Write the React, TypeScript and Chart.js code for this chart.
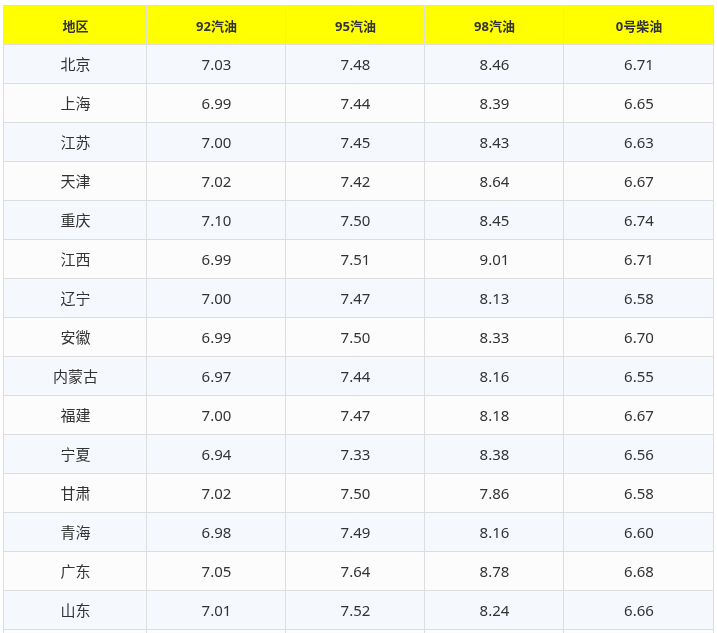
import React, { useEffect, useRef } from "react";
import { Chart, registerables } from "chart.js";

Chart.register(...registerables);

const headers = ["地区", "92汽油", "95汽油", "98汽油", "0号柴油"];
const regions = ["北京", "上海", "江苏", "天津", "重庆", "江西", "辽宁", "安徽", "内蒙古", "福建", "宁夏", "甘肃", "青海", "广东", "山东"];
const gas92 = [7.03, 6.99, 7.0, 7.02, 7.1, 6.99, 7.0, 6.99, 6.97, 7.0, 6.94, 7.02, 6.98, 7.05, 7.01];
const gas95 = [7.48, 7.44, 7.45, 7.42, 7.5, 7.51, 7.47, 7.5, 7.44, 7.47, 7.33, 7.5, 7.49, 7.64, 7.52];
const gas98 = [8.46, 8.39, 8.43, 8.64, 8.45, 9.01, 8.13, 8.33, 8.16, 8.18, 8.38, 7.86, 8.16, 8.78, 8.24];
const diesel0 = [6.71, 6.65, 6.63, 6.67, 6.74, 6.71, 6.58, 6.7, 6.55, 6.67, 6.56, 6.58, 6.6, 6.68, 6.66];

// layout (column relative widths), not data
const colWeights = [143, 139, 139, 139, 150];
const totalWeight = colWeights.reduce((a, b) => a + b, 0);
const rowCount = regions.length + 2; // header + rows + continuing row

const FONT = "'Noto Sans', 'Noto Sans CJK SC', sans-serif";

const tablePlugin = {
  id: "tablePlugin",
  afterDraw(chart: any) {
    const ctx = chart.ctx;
    const xs = chart.scales.x;
    const ys = chart.scales.y;
    const edges: number[] = [0];
    colWeights.forEach((w, i) => edges.push(edges[i] + w));
    const xe = edges.map((e) => Math.round(xs.getPixelForValue(e)));
    const ye: number[] = [];
    for (let r = 0; r <= rowCount; r++) ye.push(Math.round(ys.getPixelForValue(r)));
    const columns = [regions, gas92, gas95, gas98, diesel0];

    ctx.save();
    for (let r = 0; r < rowCount; r++) {
      let bg = "#fcfcfc";
      if (r === 0) bg = "#ffff00";
      else if (r % 2 === 1) bg = "#f5f9fe";
      ctx.fillStyle = bg;
      ctx.fillRect(xe[0], ye[r], xe[xe.length - 1] - xe[0], ye[r + 1] - ye[r]);
    }
    ctx.strokeStyle = "#dddddd";
    ctx.lineWidth = 1;
    ctx.beginPath();
    for (let r = 0; r <= rowCount; r++) {
      ctx.moveTo(xe[0], ye[r] + 0.5);
      ctx.lineTo(xe[xe.length - 1] + 1, ye[r] + 0.5);
    }
    for (let c = 0; c < xe.length; c++) {
      ctx.moveTo(xe[c] + 0.5, ye[0]);
      ctx.lineTo(xe[c] + 0.5, ye[rowCount]);
    }
    ctx.stroke();

    ctx.textAlign = "center";
    ctx.textBaseline = "middle";
    ctx.fillStyle = "#333333";
    ctx.font = "bold 13px " + FONT;
    headers.forEach((h, c) => {
      ctx.fillText(h, (xe[c] + xe[c + 1]) / 2 + 1, (ye[0] + ye[1]) / 2 + 2.5);
    });
    ctx.font = "15px " + FONT;
    columns.forEach((col, c) => {
      col.forEach((v: any, i: number) => {
        const r = i + 1;
        const txt = typeof v === "number" ? v.toFixed(2) : v;
        ctx.fillText(txt, (xe[c] + xe[c + 1]) / 2 + 1, (ye[r] + ye[r + 1]) / 2 + 2);
      });
    });
    ctx.restore();
  },
};

export default function App() {
  const ref = useRef<HTMLCanvasElement | null>(null);
  useEffect(() => {
    if (!ref.current) return;
    const chart = new Chart(ref.current, {
      type: "scatter",
      data: { datasets: [] },
      options: {
        animation: false,
        responsive: false,
        devicePixelRatio: 1,
        layout: { padding: { left: 3, top: 5, right: 4, bottom: 2 } },
        plugins: { legend: { display: false }, tooltip: { enabled: false }, title: { display: false } },
        scales: {
          x: { type: "linear", min: 0, max: totalWeight, display: false },
          y: { type: "linear", min: 0, max: rowCount, reverse: true, display: false },
        },
      },
      plugins: [tablePlugin],
    } as any);
    return () => chart.destroy();
  }, []);
  return (
    <div style={{ position: "absolute", left: 0, top: 0, width: 717, height: 633, overflow: "hidden", background: "#ffffff" }}>
      <canvas ref={ref} width={717} height={670} style={{ width: 717, height: 670, display: "block" }} />
    </div>
  );
}
